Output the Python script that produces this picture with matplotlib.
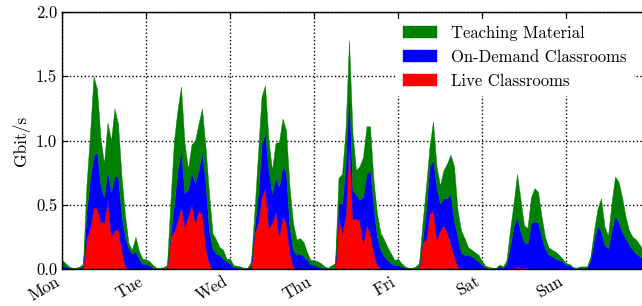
import numpy as np
import matplotlib
matplotlib.use("Agg")
import matplotlib.pyplot as plt

plt.rcParams["font.family"] = "serif"
plt.rcParams["font.serif"] = ["cmr10"]
plt.rcParams["mathtext.fontset"] = "cm"
plt.rcParams["axes.formatter.use_mathtext"] = True
plt.rcParams["font.size"] = 12

days = ["Mon", "Tue", "Wed", "Thu", "Fri", "Sat", "Sun"]

# hourly samples (Gbit/s), one row per day
live = [
    0, 0, 0, 0, 0, 0, 0, 0.24, 0.32, 0.48, 0.47, 0.37, 0.36, 0.54, 0.25, 0.30, 0.31, 0.15, 0.02, 0, 0, 0, 0, 0,
    0, 0, 0, 0, 0, 0, 0, 0.26, 0.29, 0.38, 0.49, 0.33, 0.41, 0.50, 0.36, 0.45, 0.43, 0.17, 0.04, 0, 0, 0, 0, 0,
    0, 0, 0, 0, 0, 0, 0, 0.28, 0.36, 0.56, 0.63, 0.32, 0.36, 0.45, 0.25, 0.41, 0.36, 0.12, 0.02, 0, 0, 0, 0, 0,
    0, 0, 0, 0, 0, 0, 0, 0.41, 0.28, 0.41, 1.00, 0.39, 0.39, 0.38, 0.20, 0.34, 0.28, 0.12, 0.03, 0, 0, 0, 0, 0,
    0, 0, 0, 0, 0, 0, 0, 0.21, 0.23, 0.43, 0.46, 0.23, 0.30, 0.34, 0.28, 0.20, 0.10, 0.02, 0, 0, 0, 0, 0, 0,
    0, 0, 0, 0, 0, 0, 0, 0, 0, 0.005, 0.015, 0.01, 0.01, 0.005, 0, 0, 0, 0, 0, 0, 0, 0, 0, 0,
    0, 0, 0, 0, 0, 0, 0, 0, 0, 0, 0, 0, 0, 0, 0, 0, 0, 0, 0, 0, 0, 0, 0, 0,
]
ondemand = [
    0.03, 0.02, 0.01, 0.005, 0.005, 0.01, 0.02, 0.21, 0.38, 0.40, 0.44, 0.28, 0.20, 0.23, 0.35, 0.42, 0.41, 0.27, 0.23, 0.16, 0.12, 0.14, 0.08, 0.04,
    0.04, 0.03, 0.01, 0.005, 0.005, 0.005, 0.01, 0.02, 0.22, 0.39, 0.44, 0.26, 0.21, 0.25, 0.31, 0.32, 0.48, 0.50, 0.26, 0.16, 0.12, 0.11, 0.08, 0.06,
    0.04, 0.015, 0.01, 0.01, 0.005, 0.005, 0.03, 0.04, 0.23, 0.41, 0.43, 0.45, 0.23, 0.27, 0.39, 0.39, 0.39, 0.21, 0.13, 0.11, 0.12, 0.10, 0.07, 0.04,
    0.03, 0.02, 0.015, 0.005, 0.005, 0.005, 0.01, 0.10, 0.23, 0.41, 0.39, 0.22, 0.19, 0.16, 0.36, 0.40, 0.49, 0.37, 0.22, 0.15, 0.10, 0.07, 0.045, 0.03,
    0.03, 0.02, 0.01, 0.005, 0.005, 0.005, 0.01, 0.02, 0.23, 0.37, 0.39, 0.41, 0.21, 0.21, 0.27, 0.38, 0.28, 0.23, 0.13, 0.11, 0.11, 0.10, 0.08, 0.06,
    0.03, 0.01, 0.005, 0.005, 0.005, 0.025, 0.01, 0.045, 0.17, 0.325, 0.395, 0.28, 0.20, 0.195, 0.36, 0.37, 0.36, 0.25, 0.16, 0.11, 0.10, 0.08, 0.07, 0.06,
    0.03, 0.03, 0.01, 0.005, 0.01, 0.01, 0.01, 0.07, 0.23, 0.34, 0.29, 0.19, 0.16, 0.30, 0.41, 0.37, 0.29, 0.24, 0.19, 0.15, 0.12, 0.10, 0.08, 0.05,
]
teaching = [
    0.04, 0.025, 0.01, 0.005, 0.005, 0.01, 0.02, 0.21, 0.35, 0.62, 0.49, 0.37, 0.26, 0.37, 0.40, 0.53, 0.41, 0.30, 0.17, 0.04, 0.03, 0.11, 0.06, 0.04,
    0.035, 0.03, 0.02, 0.005, 0.005, 0.01, 0.02, 0.26, 0.49, 0.47, 0.49, 0.39, 0.16, 0.22, 0.33, 0.36, 0.34, 0.28, 0.29, 0.12, 0.11, 0.06, 0.07, 0.02,
    0.04, 0.015, 0.015, 0.01, 0.005, 0.005, 0.03, 0.14, 0.31, 0.37, 0.37, 0.23, 0.18, 0.26, 0.35, 0.37, 0.33, 0.31, 0.21, 0.12, 0.12, 0.11, 0.06, 0.03,
    0.04, 0.04, 0.03, 0.015, 0.005, 0.025, 0.035, 0.20, 0.23, 0.26, 0.39, 0.45, 0.19, 0.26, 0.31, 0.37, 0.34, 0.20, 0.18, 0.13, 0.13, 0.10, 0.075, 0.04,
    0.05, 0.025, 0.01, 0.005, 0.005, 0.015, 0.035, 0.13, 0.18, 0.15, 0.30, 0.16, 0.14, 0.22, 0.27, 0.31, 0.42, 0.21, 0.17, 0.13, 0.06, 0.05, 0.05, 0.05,
    0.03, 0.015, 0.01, 0.005, 0.005, 0.01, 0.01, 0.025, 0.13, 0.18, 0.33, 0.25, 0.13, 0.12, 0.20, 0.26, 0.24, 0.16, 0.09, 0.06, 0.05, 0.055, 0.04, 0.02,
    0.015, 0.01, 0.005, 0.005, 0.01, 0.01, 0.01, 0.03, 0.07, 0.13, 0.26, 0.14, 0.10, 0.21, 0.31, 0.31, 0.27, 0.17, 0.11, 0.10, 0.11, 0.09, 0.07, 0.05,
]

hours = np.arange(len(live)) / 24.0

fig = plt.figure(figsize=(6.42, 3.06), dpi=100)
# axes runs a little past the right edge of the figure, as in the cropped original
ax = fig.add_axes([62 / 642, 37 / 306, 588 / 642, 257 / 306])

ax.stackplot(hours, live, ondemand, teaching,
             colors=["#ff0000", "#0000ff", "#008000"],
             labels=["Live Classrooms", "On-Demand Classrooms", "Teaching Material"],
             linewidth=0.3, edgecolor="face", zorder=2)

ax.set_xlim(0, 7)
ax.set_ylim(0, 2.0)
ax.set_xticks(range(7))
ax.set_xticklabels(days, rotation=30, ha="right")
ax.set_yticks([0.0, 0.5, 1.0, 1.5, 2.0])
ax.set_yticklabels(["0.0", "0.5", "1.0", "1.5", "2.0"])
ax.set_ylabel("Gbit/s", fontsize=12.5)
ax.tick_params(direction="in", top=True, right=True, length=4)
ax.grid(True, color="black", linestyle=":", linewidth=1.0, zorder=1)
ax.set_axisbelow(True)
for s in ax.spines.values():
    s.set_linewidth(1.0)

handles, labels = ax.get_legend_handles_labels()
leg = ax.legend(handles[::-1], labels[::-1], loc="lower left",
                bbox_to_anchor=(0.570, 0.677), fontsize=12,
                handlelength=2.04, handleheight=0.72, handletextpad=0.84,
                labelspacing=0.53, borderpad=0.36, borderaxespad=0.0,
                fancybox=False, framealpha=1.0, facecolor="white", edgecolor="white")
leg.set_zorder(5)

fig.savefig("out.png", dpi=100)
